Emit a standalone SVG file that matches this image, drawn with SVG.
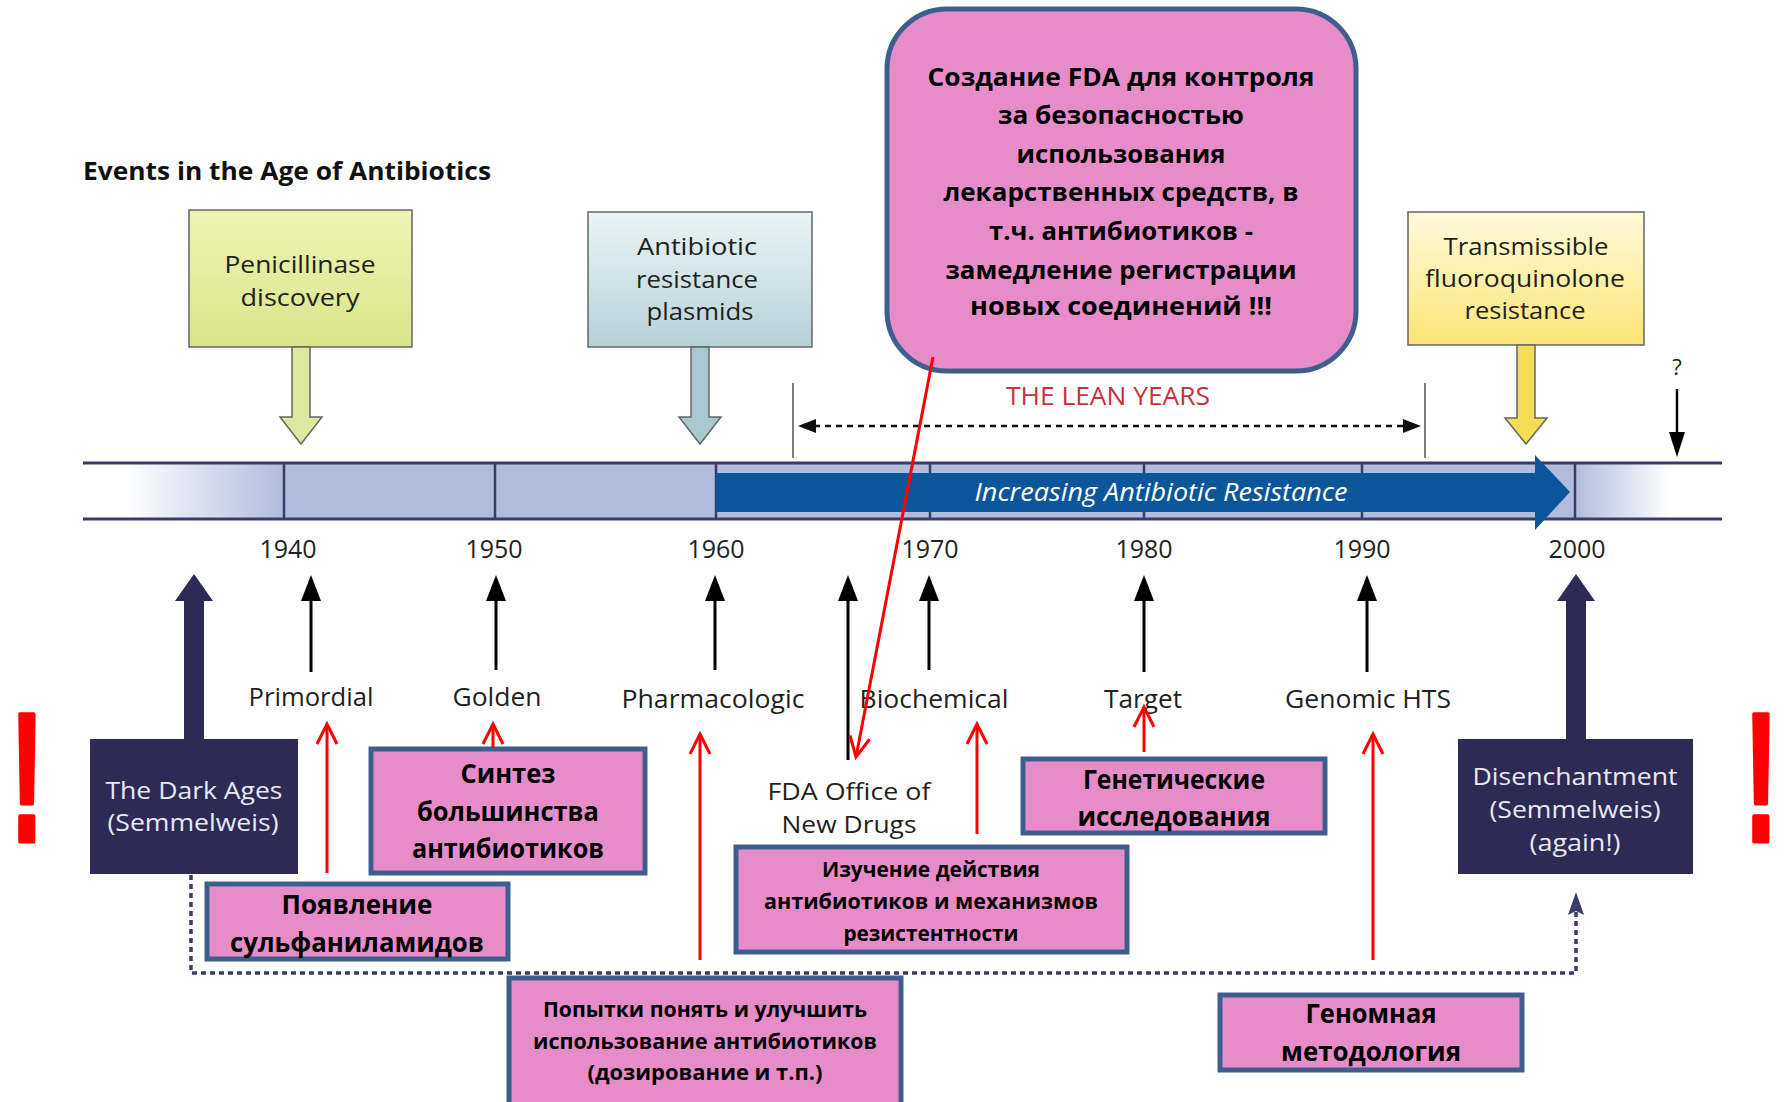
<svg xmlns="http://www.w3.org/2000/svg" width="1785" height="1102" viewBox="0 0 1785 1102">
<style>
.t{font-family:"Open Sans","Liberation Sans",sans-serif;fill:#231f20;text-anchor:middle}
.lbl{font-size:26px}
.ml{font-size:24px}
.yr{font-size:25px}
.ru{font-family:"Open Sans","Liberation Sans",sans-serif;font-weight:700;fill:#000;text-anchor:middle}
.pink{fill:#e68dc9;stroke:#3e5e8e;stroke-width:5}
.dark{fill:#2e2a56}
.wt{fill:#e9e9f2}
.box{stroke:#666;stroke-width:1.5}
.red{stroke:#ff0000;stroke-width:3;fill:none;marker-end:url(#rv)}
.blk{stroke:#000;stroke-width:3;fill:none;marker-end:url(#bh)}
.div{stroke:#3b3b6b;stroke-width:2.5}
.exc{font-family:"Liberation Sans",sans-serif;font-weight:700;font-size:183px;fill:#ff0000;stroke:#ff0000;stroke-width:5;stroke-linejoin:round}
</style>
<defs>
<marker id="rv" markerUnits="userSpaceOnUse" viewBox="-3 -3 26 26" markerWidth="26" markerHeight="26" refX="20" refY="10" orient="auto">
<path d="M0,0 L20,10 L0,20" fill="none" stroke="#ff0000" stroke-width="3"/>
</marker>
<marker id="bh" markerUnits="userSpaceOnUse" viewBox="0 0 26 20" markerWidth="26" markerHeight="20" refX="0" refY="10" orient="auto">
<path d="M0,0 L26,10 L0,20 Z" fill="#000"/>
</marker>
<linearGradient id="gPen" x1="0" y1="0" x2="0" y2="1"><stop offset="0" stop-color="#eef4b2"/><stop offset="1" stop-color="#d9e58b"/></linearGradient>
<linearGradient id="gPla" x1="0" y1="0" x2="0" y2="1"><stop offset="0" stop-color="#eaf4f6"/><stop offset="1" stop-color="#b8d2d8"/></linearGradient>
<linearGradient id="gTra" x1="0" y1="0" x2="0" y2="1"><stop offset="0" stop-color="#fffbdc"/><stop offset="1" stop-color="#fbe577"/></linearGradient>
<linearGradient id="gBar" gradientUnits="userSpaceOnUse" x1="83" y1="0" x2="1722" y2="0">
<stop offset="0" stop-color="#ffffff"/><stop offset="0.027" stop-color="#ffffff"/><stop offset="0.122" stop-color="#b2bcdc"/><stop offset="0.910" stop-color="#b2bcdc"/><stop offset="0.968" stop-color="#ffffff"/><stop offset="1" stop-color="#ffffff"/>
</linearGradient>
</defs>
<rect width="1785" height="1102" fill="#ffffff"/>

<g id="title">
<text x="83" y="180" font-family="'Open Sans','Liberation Sans',sans-serif" font-weight="700" font-size="25" fill="#111" textLength="408" lengthAdjust="spacingAndGlyphs">Events in the Age of Antibiotics</text>
</g>

<g id="timeline">
<rect x="83" y="463" width="1639" height="56" fill="url(#gBar)"/>
<line x1="284" y1="463" x2="284" y2="519" class="div"/>
<line x1="495" y1="463" x2="495" y2="519" class="div"/>
<line x1="716" y1="463" x2="716" y2="519" class="div"/>
<line x1="930" y1="463" x2="930" y2="519" class="div"/>
<line x1="1144" y1="463" x2="1144" y2="519" class="div"/>
<line x1="1362" y1="463" x2="1362" y2="519" class="div"/>
<line x1="1575" y1="463" x2="1575" y2="519" class="div"/>
<line x1="83" y1="463" x2="1722" y2="463" stroke="#3b3b6b" stroke-width="3"/>
<line x1="83" y1="519" x2="1722" y2="519" stroke="#3b3b6b" stroke-width="3"/>
<polygon points="716,473 1535,473 1535,455 1570,492 1535,530 1535,512 716,512" fill="#0b559b"/>
<text x="1161" y="501" font-family="'Open Sans','Liberation Sans',sans-serif" font-style="italic" font-size="25" fill="#ffffff" text-anchor="middle" textLength="373" lengthAdjust="spacingAndGlyphs">Increasing Antibiotic Resistance</text>
<text class="t yr" x="288" y="558">1940</text>
<text class="t yr" x="494" y="558">1950</text>
<text class="t yr" x="716" y="558">1960</text>
<text class="t yr" x="930" y="558">1970</text>
<text class="t yr" x="1144" y="558">1980</text>
<text class="t yr" x="1362" y="558">1990</text>
<text class="t yr" x="1577" y="558">2000</text>
</g>

<g id="penicillinase">
<rect x="189" y="210" width="223" height="137" fill="url(#gPen)" class="box"/>
<text class="t ml" x="300" y="273" textLength="151" lengthAdjust="spacingAndGlyphs">Penicillinase</text>
<text class="t ml" x="300" y="306" textLength="119" lengthAdjust="spacingAndGlyphs">discovery</text>
<polygon points="292,347 310,347 310,417 322,417 301,444 280,417 292,417" fill="#dde8a0" class="box"/>
</g>

<g id="plasmids">
<rect x="588" y="212" width="224" height="135" fill="url(#gPla)" class="box"/>
<text class="t ml" x="697" y="255" textLength="120" lengthAdjust="spacingAndGlyphs">Antibiotic</text>
<text class="t ml" x="697" y="288" textLength="122" lengthAdjust="spacingAndGlyphs">resistance</text>
<text class="t ml" x="700" y="320" textLength="107" lengthAdjust="spacingAndGlyphs">plasmids</text>
<polygon points="691,347 709,347 709,417 721,417 700,444 679,417 691,417" fill="#a9c8cf" class="box"/>
</g>

<g id="transmissible">
<rect x="1408" y="212" width="236" height="133" fill="url(#gTra)" class="box"/>
<text class="t ml" x="1526" y="255" textLength="165" lengthAdjust="spacingAndGlyphs">Transmissible</text>
<text class="t ml" x="1525" y="287" textLength="200" lengthAdjust="spacingAndGlyphs">fluoroquinolone</text>
<text class="t ml" x="1525" y="319" textLength="121" lengthAdjust="spacingAndGlyphs">resistance</text>
<polygon points="1517,345 1535,345 1535,418 1547,418 1526,444 1505,418 1517,418" fill="#f7dc55" class="box"/>
</g>

<g id="question">
<text class="t" x="1677" y="375" font-size="22">?</text>
<line x1="1677" y1="389" x2="1677" y2="435" stroke="#000" stroke-width="2.5"/>
<polygon points="1669,432 1685,432 1677,457" fill="#000"/>
</g>

<g id="lean-years">
<line x1="793" y1="383" x2="793" y2="458" stroke="#555" stroke-width="1.5"/>
<line x1="1425" y1="383" x2="1425" y2="458" stroke="#555" stroke-width="1.5"/>
<line x1="814" y1="426" x2="1405" y2="426" stroke="#111" stroke-width="2.5" stroke-dasharray="6 5"/>
<polygon points="798,426 816,419 816,433" fill="#111"/>
<polygon points="1421,426 1403,419 1403,433" fill="#111"/>
<text x="1108" y="405" font-family="'Open Sans','Liberation Sans',sans-serif" font-size="26" fill="#c8323f" text-anchor="middle" textLength="204" lengthAdjust="spacingAndGlyphs">THE LEAN YEARS</text>
</g>

<g id="fda-box">
<rect x="887" y="9" width="469" height="362" rx="60" ry="60" class="pink"/>
<text class="ru" x="1121" y="86" font-size="25" textLength="387" lengthAdjust="spacingAndGlyphs">Создание FDA для контроля</text>
<text class="ru" x="1121" y="124" font-size="25" textLength="246" lengthAdjust="spacingAndGlyphs">за безопасностью</text>
<text class="ru" x="1121" y="163" font-size="25" textLength="209" lengthAdjust="spacingAndGlyphs">использования</text>
<text class="ru" x="1121" y="201" font-size="25" textLength="355" lengthAdjust="spacingAndGlyphs">лекарственных средств, в</text>
<text class="ru" x="1121" y="240" font-size="25" textLength="264" lengthAdjust="spacingAndGlyphs">т.ч. антибиотиков -</text>
<text class="ru" x="1121" y="279" font-size="25" textLength="351" lengthAdjust="spacingAndGlyphs">замедление регистрации</text>
<text class="ru" x="1121" y="315" font-size="25" textLength="302" lengthAdjust="spacingAndGlyphs">новых соединений !!!</text>
</g>

<g id="dark-ages">
<rect x="184" y="600" width="20" height="140" class="dark"/>
<polygon points="175,601 213,601 194,574" class="dark"/>
<rect x="90" y="739" width="208" height="135" class="dark"/>
<text class="t ml wt" x="194" y="799" textLength="177" lengthAdjust="spacingAndGlyphs">The Dark Ages</text>
<text class="t ml wt" x="193" y="831" textLength="171" lengthAdjust="spacingAndGlyphs">(Semmelweis)</text>
</g>

<g id="disenchantment">
<rect x="1566" y="600" width="20" height="140" class="dark"/>
<polygon points="1557,601 1595,601 1576,574" class="dark"/>
<rect x="1458" y="739" width="235" height="135" class="dark"/>
<text class="t ml wt" x="1575" y="785" textLength="205" lengthAdjust="spacingAndGlyphs">Disenchantment</text>
<text class="t ml wt" x="1575" y="818" textLength="171" lengthAdjust="spacingAndGlyphs">(Semmelweis)</text>
<text class="t ml wt" x="1575" y="851" textLength="91" lengthAdjust="spacingAndGlyphs">(again!)</text>
</g>

<g id="era-labels">
<text class="t lbl" x="311" y="706" textLength="125" lengthAdjust="spacingAndGlyphs">Primordial</text>
<text class="t lbl" x="497" y="706" textLength="89" lengthAdjust="spacingAndGlyphs">Golden</text>
<text class="t lbl" x="713" y="708" textLength="183" lengthAdjust="spacingAndGlyphs">Pharmacologic</text>
<text class="t lbl" x="934" y="708" textLength="149" lengthAdjust="spacingAndGlyphs">Biochemical</text>
<text class="t lbl" x="1143" y="708" textLength="78" lengthAdjust="spacingAndGlyphs">Target</text>
<text class="t lbl" x="1368" y="708" textLength="166" lengthAdjust="spacingAndGlyphs">Genomic HTS</text>
<text class="t ml" x="849" y="800" textLength="163" lengthAdjust="spacingAndGlyphs">FDA Office of</text>
<text class="t ml" x="849" y="833" textLength="135" lengthAdjust="spacingAndGlyphs">New Drugs</text>
</g>

<g id="sintez">
<rect x="371" y="749" width="274" height="124" class="pink"/>
<text class="ru" x="508" y="783" font-size="26" textLength="95" lengthAdjust="spacingAndGlyphs">Синтез</text>
<text class="ru" x="508" y="821" font-size="26" textLength="182" lengthAdjust="spacingAndGlyphs">большинства</text>
<text class="ru" x="508" y="858" font-size="26" textLength="192" lengthAdjust="spacingAndGlyphs">антибиотиков</text>
</g>

<g id="sulfa">
<rect x="207" y="884" width="301" height="75" class="pink"/>
<text class="ru" x="357" y="914" font-size="26" textLength="151" lengthAdjust="spacingAndGlyphs">Появление</text>
<text class="ru" x="357" y="952" font-size="26" textLength="254" lengthAdjust="spacingAndGlyphs">сульфаниламидов</text>
</g>

<g id="izuchenie">
<rect x="736" y="847" width="391" height="105" class="pink"/>
<text class="ru" x="931" y="877" font-size="21" textLength="218" lengthAdjust="spacingAndGlyphs">Изучение действия</text>
<text class="ru" x="931" y="909" font-size="21" textLength="334" lengthAdjust="spacingAndGlyphs">антибиотиков и механизмов</text>
<text class="ru" x="931" y="941" font-size="21" textLength="175" lengthAdjust="spacingAndGlyphs">резистентности</text>
</g>

<g id="genetic">
<rect x="1023" y="759" width="302" height="74" class="pink"/>
<text class="ru" x="1174" y="789" font-size="26" textLength="182" lengthAdjust="spacingAndGlyphs">Генетические</text>
<text class="ru" x="1174" y="826" font-size="26" textLength="193" lengthAdjust="spacingAndGlyphs">исследования</text>
</g>

<g id="popytki">
<rect x="509" y="978" width="392" height="130" class="pink"/>
<text class="ru" x="705" y="1017" font-size="21" textLength="324" lengthAdjust="spacingAndGlyphs">Попытки понять и улучшить</text>
<text class="ru" x="705" y="1049" font-size="21" textLength="344" lengthAdjust="spacingAndGlyphs">использование антибиотиков</text>
<text class="ru" x="705" y="1080" font-size="21" textLength="235" lengthAdjust="spacingAndGlyphs">(дозирование и т.п.)</text>
</g>

<g id="genomnaya">
<rect x="1220" y="995" width="302" height="75" class="pink"/>
<text class="ru" x="1371" y="1023" font-size="26" textLength="131" lengthAdjust="spacingAndGlyphs">Геномная</text>
<text class="ru" x="1371" y="1061" font-size="26" textLength="180" lengthAdjust="spacingAndGlyphs">методология</text>
</g>

<g id="exclamations">
<text class="exc" x="10" y="841" text-anchor="start" textLength="34" lengthAdjust="spacingAndGlyphs">!</text>
<text class="exc" x="1778" y="841" text-anchor="end" textLength="34" lengthAdjust="spacingAndGlyphs">!</text>
</g>

<g id="connectors">
<line x1="311" y1="672" x2="311" y2="601" class="blk"/>
<line x1="496" y1="670" x2="496" y2="601" class="blk"/>
<line x1="715" y1="670" x2="715" y2="601" class="blk"/>
<line x1="848" y1="760" x2="848" y2="601" class="blk"/>
<line x1="929" y1="670" x2="929" y2="601" class="blk"/>
<line x1="1144" y1="672" x2="1144" y2="601" class="blk"/>
<line x1="1367" y1="672" x2="1367" y2="601" class="blk"/>
<path d="M191,875 V973 H1576 V912" fill="none" stroke="#3b3b6b" stroke-width="3.5" stroke-dasharray="5 4"/>
<polygon points="1576,892 1568,915 1576,911 1584,915" fill="#3b3b6b"/>
<line x1="327" y1="873" x2="327" y2="724" class="red"/>
<line x1="493" y1="748" x2="493" y2="724" class="red"/>
<line x1="700" y1="960" x2="700" y2="734" class="red"/>
<line x1="977" y1="834" x2="977" y2="724" class="red"/>
<line x1="1144" y1="752" x2="1144" y2="707" class="red"/>
<line x1="1373" y1="960" x2="1373" y2="734" class="red"/>
<line x1="933" y1="357" x2="856" y2="757" class="red"/>
</g>
</svg>
